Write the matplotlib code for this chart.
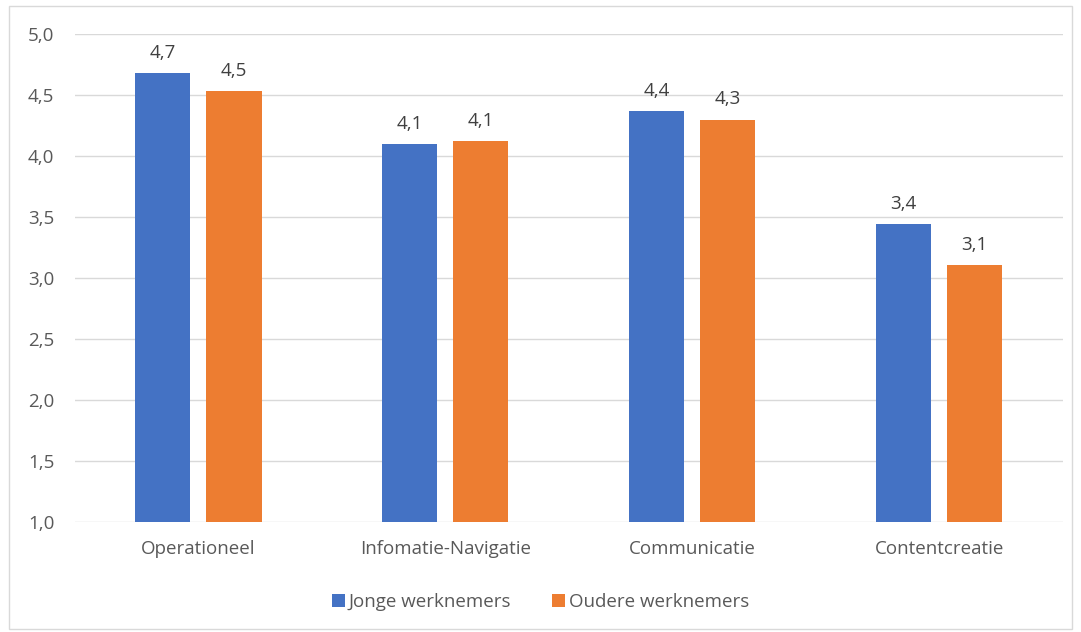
import numpy as np
import matplotlib.pyplot as plt
from matplotlib.patches import Rectangle

# data
categories = ["Operationeel", "Infomatie-Navigatie", "Communicatie", "Contentcreatie"]
jonge = [4.68, 4.10, 4.37, 3.44]
oudere = [4.53, 4.12, 4.30, 3.11]
series_names = ["Jonge werknemers", "Oudere werknemers"]
y_ticks = [1.0, 1.5, 2.0, 2.5, 3.0, 3.5, 4.0, 4.5, 5.0]

blue = "#4472C4"
orange = "#ED7D31"
grey_text = "#595959"

plt.rcParams["font.family"] = ["Open Sans", "DejaVu Sans"]

fig = plt.figure(figsize=(10.81, 6.32), dpi=100)
ax = fig.add_axes([0.0694, 0.174, 0.9136, 0.772])

# figure border
fig.patches.append(Rectangle((0.008, 0.004), 0.984, 0.986, transform=fig.transFigure,
                             fill=False, edgecolor="#D9D9D9", linewidth=1.0))

x = np.arange(len(categories))
width = 0.223
offset = (width + 0.065) / 2

b1 = ax.bar(x - offset, np.array(jonge) - 1.0, width, bottom=1.0, color=blue, label=series_names[0], zorder=3)
b2 = ax.bar(x + offset, np.array(oudere) - 1.0, width, bottom=1.0, color=orange, label=series_names[1], zorder=3)

for bars, vals in [(b1, jonge), (b2, oudere)]:
    for rect, v in zip(bars, vals):
        ax.annotate(f"{v:.1f}".replace(".", ","),
                    (rect.get_x() + rect.get_width() / 2, v),
                    xytext=(0, 8), textcoords="offset points",
                    ha="center", va="bottom", fontsize=13.5, color="#404040")

ax.set_xlim(-0.5, len(categories) - 0.5)
ax.set_ylim(1.0, 5.0)
ax.set_yticks(y_ticks)
ax.set_yticklabels([f"{t:.1f}".replace(".", ",") for t in y_ticks])
ax.set_xticks(x)
ax.set_xticklabels(categories)
ax.tick_params(axis="both", length=0, colors=grey_text, labelsize=13.5)
ax.tick_params(axis="y", pad=15)
ax.tick_params(axis="x", pad=13)

ax.yaxis.grid(True, color="#D9D9D9", linewidth=1.0, zorder=0)
for s in ax.spines.values():
    s.set_visible(False)

fig.legend(handles=[b1, b2], labels=series_names, loc="center", bbox_to_anchor=(0.5, 0.047),
           ncol=2, frameon=False, fontsize=13.5, labelcolor=grey_text,
           handlelength=0.7, handleheight=0.7, handletextpad=0.2, columnspacing=2.2)

fig.savefig("out.png", dpi=100)
